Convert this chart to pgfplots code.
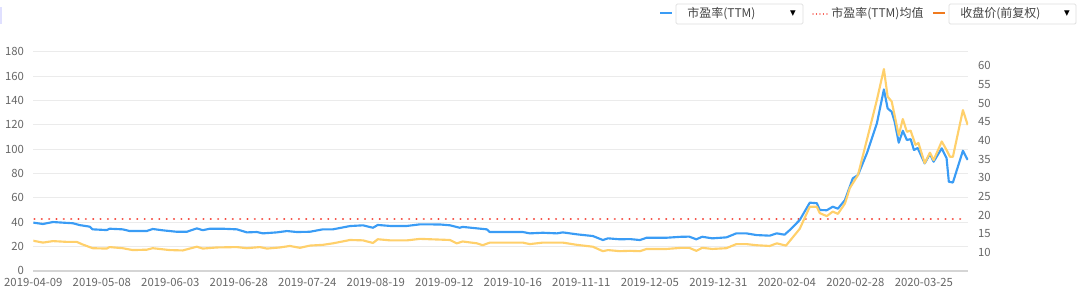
\documentclass[border=0pt]{standalone}
\usepackage{fontspec}
\setmainfont{Noto Sans CJK SC}
\newfontfamily\dejavu{DejaVu Sans}
\usepackage{pgfplots}
\pgfplotsset{compat=1.18}
\definecolor{peblue}{HTML}{3A9CF5}
\definecolor{priceyel}{HTML}{FFD06B}
\definecolor{meanred}{HTML}{F5453A}
\definecolor{legorange}{HTML}{F07A1E}
\definecolor{gridc}{HTML}{EBEBEB}
\definecolor{axisc}{HTML}{D5D5D5}
\definecolor{labc}{HTML}{666666}
\definecolor{legtext}{HTML}{444444}
\definecolor{boxc}{HTML}{DDDDDD}
\begin{document}
\begin{tikzpicture}
\useasboundingbox (0,0) rectangle (810pt,223.5pt);
\pgfplotsset{common/.style={
  at={(24.975pt,20.475pt)}, anchor=south west, scale only axis,
  width=701.025pt, height=164.25pt, xmin=0, xmax=245.6,
  ticklabel style={font=\fontsize{8.5}{10}\selectfont, text=labc},
  /pgf/number format/assume math mode=true,
  major tick length=0pt, tick style={draw=none},
}}
\begin{axis}[common, ymin=0, ymax=180, ytick={0,20,...,180},
  xtick={0,18,...,234},
  xticklabels={2019-04-09,2019-05-08,2019-06-03,2019-06-28,2019-07-24,2019-08-19,2019-09-12,2019-10-16,2019-11-11,2019-12-05,2019-12-31,2020-02-04,2020-02-28,2020-03-25},
  ymajorgrids, grid style={gridc, line width=0.75pt},
  axis x line*=bottom, axis y line*=left,
  y axis line style={draw=none}, x axis line style={axisc, line width=1.5pt, -},
  yticklabel style={xshift=-3.5pt}, xticklabel style={yshift=-2pt}]
\addplot[meanred, line width=1.7pt, line cap=round, dash pattern=on 0.01pt off 5.5pt] coordinates {(0.3,42.5) (244.3,42.5)};
\addplot[peblue, line width=1.6pt, line join=round] coordinates {
(0,39.5)(2.53,38.4)(5.16,40)(10.42,39)(12.18,37.5)(14.81,36.2)(15.59,34)(19.29,33.4)(20.07,34.5)(23.48,34)(25.33,32.6)(29.81,32.6)(31.37,34.3)(34.0,33.2)(37.71,32)(40.34,32)(42.97,34.8)(44.53,33.3)(46.38,34.5)(49.79,34.5)(53.49,34)(56.12,31.5)(58.75,31.8)(60.31,30.7)(64.01,31.5)(66.64,32.6)(69.27,31.8)(72.68,32)(76.09,34)(78.72,34)(83.21,36.7)(86.62,37.3)(89.25,35.3)(90.51,37.6)(93.73,36.8)(98.21,36.8)(101.62,38.1)(106.88,38)(109.51,37.3)(112.04,35.3)(112.82,36)(116.62,34.8)(119.16,34)(119.94,31.8)(123.35,31.8)(128.61,31.8)(130.46,30.7)(133.87,31.2)(137.57,30.7)(139.13,31.5)(142.83,29.9)(147.02,28.5)(149.66,25.2)(151.02,26.6)(154.14,25.8)(156.77,26)(159.39,25.2)(161.15,27.1)(166.41,27.1)(170.31,27.9)(172.35,28)(174.2,25.8)(175.76,27.9)(178.39,26.6)(182.1,27.4)(184.73,30.7)(187.36,30.7)(189.99,29.3)(193.5,28.8)(195.35,30.7)(197.39,29.6)(198.76,33.4)(201.39,41.7)(204.02,55.9)(205.87,55.5)(206.65,49.9)(208.5,49.7)(210.06,52.6)(211.42,51)(213.27,58.1)(215.32,75.9)(216.68,78.6)(219.02,96.5)(221.65,121)(223.5,149)(224.48,133.4)(225.55,130.6)(226.33,122.4)(227.4,105.2)(228.47,115)(229.54,107.4)(230.52,108.2)(231.39,99.2)(232.37,100.8)(234.22,88.2)(235.59,95.9)(236.56,89.6)(238.7,100.6)(239.97,92.4)(240.56,73.1)(241.63,72.5)(244.26,98.6)(245.52,91)};
\end{axis}
\begin{axis}[common, ymin=5.07, ymax=63.75, ytick={10,15,...,60}, xtick=\empty,
  axis x line*=bottom, axis y line*=right,
  x axis line style={draw=none}, y axis line style={draw=none},
  yticklabel style={xshift=4pt}]
\addplot[priceyel, line width=1.6pt, line join=round] coordinates {
(0,13.1)(2.53,12.6)(5.16,13)(8.77,12.8)(11.4,12.8)(12.96,12.1)(15.59,11.1)(19.29,11)(20.07,11.4)(23.48,11.1)(26.11,10.6)(29.81,10.7)(31.37,11.1)(35.85,10.6)(39.26,10.5)(42.97,11.5)(44.53,11)(48.23,11.3)(53.49,11.4)(56.12,11.1)(59.53,11.4)(61.38,11)(64.79,11.3)(67.42,11.7)(70.05,11.2)(72.68,11.8)(76.09,12)(78.72,12.4)(83.21,13.3)(86.62,13.2)(89.25,12.5)(90.51,13.5)(93.73,13.2)(98.21,13.2)(101.62,13.6)(109.51,13.3)(111.27,12.4)(112.82,12.9)(116.62,12.4)(118.09,11.9)(119.94,12.6)(128.61,12.6)(130.46,12.2)(133.87,12.6)(139.13,12.6)(142.83,12)(147.02,11.5)(149.66,10.3)(151.02,10.6)(154.14,10.3)(156.77,10.4)(159.39,10.3)(161.15,10.9)(166.41,10.9)(170.31,11.2)(172.35,11.2)(174.2,10.4)(175.76,11.2)(178.39,10.9)(182.1,11.1)(184.73,12.2)(187.36,12.2)(189.99,11.9)(193.5,11.7)(195.35,12.4)(197.78,11.8)(201.39,16.3)(204.02,22.2)(205.87,22.2)(206.65,20.5)(208.5,19.7)(210.06,20.9)(211.42,20.3)(213.27,23.1)(214.54,27.2)(216.68,30.7)(219.02,40.1)(221.65,50.8)(223.5,59.1)(224.48,51.7)(225.55,50.4)(227.4,41.4)(228.47,45.7)(229.54,42.3)(230.52,42.6)(231.79,38.8)(232.57,39.3)(234.22,33.9)(235.59,36.7)(236.56,34.7)(238.7,39.7)(239.97,37.4)(240.85,35.6)(241.63,35.6)(244.26,48.1)(245.52,44.1)};
\end{axis}
% top-left fragment
\fill[blue!12] (0,205.5pt) rectangle (1.4pt,218pt);
% legend
\draw[peblue, line width=1.5pt] (495pt,213.75pt) -- (504pt,213.75pt);
\draw[boxc, line width=0.6pt, rounded corners=1pt] (507pt,220.5pt) rectangle (602.25pt,205.5pt);
\node[anchor=west, inner sep=0pt, text=legtext, font=\fontsize{9}{10}\selectfont] at (515.25pt,213pt) {市盈率(TTM)};
\node[inner sep=0pt, text=black, font=\dejavu\fontsize{5.5}{6}\selectfont] at (594.75pt,213pt) {▼};
\draw[meanred, line width=1pt, line cap=round, dash pattern=on 0.01pt off 2.6pt] (609.75pt,213pt) -- (621pt,213pt);
\node[anchor=west, inner sep=0pt, text=legtext, font=\fontsize{9}{10}\selectfont] at (623.25pt,213pt) {市盈率(TTM)均值};
\draw[legorange, line width=1.5pt] (699.75pt,213.75pt) -- (708.75pt,213.75pt);
\draw[boxc, line width=0.6pt, rounded corners=1pt] (711.75pt,220.5pt) rectangle (807pt,205.5pt);
\node[anchor=west, inner sep=0pt, text=legtext, font=\fontsize{9}{10}\selectfont] at (720pt,213pt) {收盘价(前复权)};
\node[inner sep=0pt, text=black, font=\dejavu\fontsize{5.5}{6}\selectfont] at (800.25pt,213pt) {▼};
\end{tikzpicture}
\end{document}
